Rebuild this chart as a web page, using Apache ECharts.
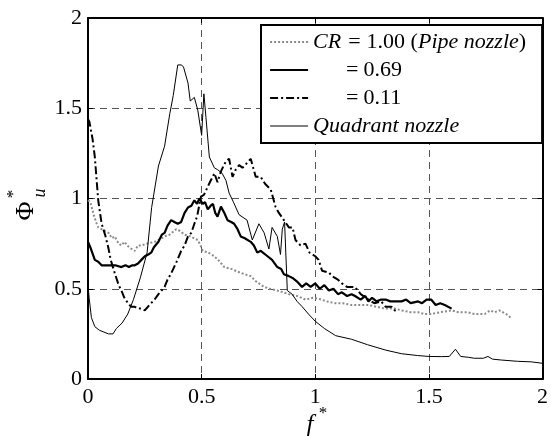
<!DOCTYPE html>
<html><head><meta charset="utf-8">
<script src="https://cdn.jsdelivr.net/npm/echarts@6/dist/echarts.min.js"></script>
<style>html,body{margin:0;padding:0;background:#fff}#c{width:551px;height:436px}</style>
</head><body><div id="c"></div>
<script>
const xTicks = [0, 0.5, 1, 1.5, 2];
const yTicks = [0, 0.5, 1, 1.5, 2];

// CR = 1.00 (Pipe nozzle)
const pipeData = [[0,0.99],[0.01,0.98],[0.023,0.92],[0.035,0.87],[0.045,0.84],[0.06,0.83],[0.074,0.82],[0.09,0.81],[0.105,0.78],[0.118,0.79],[0.135,0.75],[0.147,0.74],[0.16,0.76],[0.18,0.73],[0.206,0.71],[0.22,0.74],[0.235,0.74],[0.26,0.75],[0.293,0.76],[0.31,0.77],[0.337,0.79],[0.36,0.80],[0.388,0.83],[0.405,0.82],[0.424,0.80],[0.45,0.79],[0.483,0.77],[0.495,0.74],[0.505,0.71],[0.53,0.70],[0.556,0.68],[0.58,0.65],[0.60,0.62],[0.63,0.61],[0.658,0.595],[0.69,0.58],[0.716,0.57],[0.74,0.54],[0.775,0.51],[0.80,0.50],[0.833,0.49],[0.86,0.48],[0.884,0.47],[0.92,0.46],[0.957,0.44],[0.99,0.45],[1.015,0.445],[1.05,0.43],[1.088,0.42],[1.12,0.42],[1.16,0.41],[1.2,0.41],[1.234,0.41],[1.27,0.40],[1.307,0.39],[1.35,0.39],[1.38,0.38],[1.42,0.37],[1.453,0.37],[1.48,0.36],[1.51,0.36],[1.55,0.37],[1.6,0.38],[1.63,0.37],[1.67,0.37],[1.70,0.36],[1.745,0.36],[1.77,0.38],[1.79,0.37],[1.81,0.38],[1.84,0.36],[1.86,0.34]];

// CR = 0.69
const cr069Data = [[0,0.76],[0.01,0.73],[0.03,0.66],[0.045,0.65],[0.06,0.63],[0.08,0.63],[0.10,0.63],[0.12,0.63],[0.147,0.62],[0.165,0.63],[0.18,0.62],[0.195,0.63],[0.206,0.63],[0.22,0.64],[0.235,0.66],[0.25,0.68],[0.265,0.69],[0.278,0.70],[0.29,0.73],[0.31,0.76],[0.325,0.80],[0.337,0.81],[0.35,0.85],[0.366,0.88],[0.38,0.87],[0.395,0.86],[0.41,0.87],[0.425,0.92],[0.44,0.95],[0.455,0.96],[0.468,0.99],[0.48,0.97],[0.49,1.00],[0.505,0.97],[0.515,0.98],[0.527,0.94],[0.54,0.96],[0.55,0.97],[0.56,0.92],[0.57,0.90],[0.585,0.955],[0.60,0.92],[0.614,0.88],[0.63,0.87],[0.643,0.86],[0.658,0.83],[0.672,0.79],[0.69,0.78],[0.716,0.76],[0.73,0.74],[0.745,0.70],[0.76,0.71],[0.79,0.68],[0.81,0.66],[0.833,0.62],[0.85,0.61],[0.862,0.58],[0.884,0.57],[0.90,0.56],[0.92,0.54],[0.942,0.51],[0.96,0.53],[0.98,0.51],[1.0,0.53],[1.02,0.50],[1.04,0.52],[1.06,0.49],[1.08,0.50],[1.10,0.47],[1.117,0.48],[1.14,0.46],[1.16,0.47],[1.175,0.46],[1.20,0.44],[1.22,0.46],[1.234,0.43],[1.25,0.45],[1.27,0.43],[1.29,0.44],[1.31,0.44],[1.33,0.43],[1.35,0.43],[1.38,0.43],[1.40,0.44],[1.42,0.42],[1.453,0.43],[1.47,0.42],[1.49,0.44],[1.51,0.44],[1.53,0.41],[1.55,0.42],[1.57,0.41],[1.6,0.39]];

// CR = 0.11
const cr011Data = [[0,1.44],[0.006,1.425],[0.02,1.33],[0.03,1.23],[0.045,0.99],[0.06,0.86],[0.075,0.80],[0.089,0.73],[0.10,0.66],[0.118,0.585],[0.135,0.52],[0.147,0.49],[0.16,0.45],[0.176,0.42],[0.19,0.40],[0.206,0.40],[0.22,0.39],[0.235,0.39],[0.25,0.38],[0.27,0.41],[0.293,0.44],[0.31,0.47],[0.337,0.51],[0.35,0.55],[0.366,0.585],[0.39,0.65],[0.41,0.71],[0.425,0.74],[0.44,0.79],[0.455,0.81],[0.468,0.86],[0.48,0.90],[0.497,1.01],[0.51,1.02],[0.525,1.06],[0.54,1.10],[0.549,1.12],[0.556,1.14],[0.57,1.09],[0.585,1.15],[0.60,1.19],[0.61,1.21],[0.621,1.22],[0.636,1.12],[0.65,1.16],[0.665,1.185],[0.68,1.17],[0.695,1.19],[0.716,1.22],[0.738,1.12],[0.76,1.12],[0.78,1.08],[0.804,1.05],[0.825,0.955],[0.84,0.92],[0.862,0.88],[0.884,0.84],[0.90,0.84],[0.913,0.77],[0.935,0.74],[0.957,0.75],[0.975,0.70],[1.0,0.68],[1.015,0.66],[1.03,0.60],[1.06,0.59],[1.074,0.57],[1.10,0.55],[1.117,0.53],[1.14,0.51],[1.175,0.51],[1.20,0.47],[1.234,0.44],[1.26,0.42],[1.29,0.43],[1.31,0.40],[1.336,0.40],[1.35,0.38],[1.365,0.37]];

// Quadrant nozzle
const quadData = [[0,0.52],[0.005,0.45],[0.015,0.34],[0.03,0.29],[0.05,0.27],[0.07,0.26],[0.09,0.25],[0.11,0.25],[0.125,0.28],[0.15,0.31],[0.175,0.36],[0.2,0.44],[0.23,0.56],[0.26,0.70],[0.28,0.95],[0.31,1.18],[0.337,1.29],[0.36,1.47],[0.375,1.57],[0.395,1.74],[0.41,1.74],[0.42,1.73],[0.44,1.64],[0.45,1.54],[0.468,1.56],[0.483,1.49],[0.5,1.35],[0.51,1.58],[0.519,1.45],[0.534,1.23],[0.556,1.17],[0.57,1.16],[0.59,1.14],[0.607,1.10],[0.621,1.03],[0.64,0.98],[0.665,0.91],[0.70,0.88],[0.723,0.77],[0.752,0.86],[0.775,0.81],[0.796,0.72],[0.81,0.84],[0.833,0.79],[0.847,0.69],[0.855,0.83],[0.865,0.87],[0.877,0.49],[0.898,0.47],[0.92,0.43],[0.943,0.40],[0.97,0.36],[1.0,0.32],[1.04,0.28],[1.09,0.24],[1.16,0.22],[1.23,0.19],[1.31,0.16],[1.38,0.14],[1.45,0.13],[1.5,0.125],[1.555,0.124],[1.59,0.125],[1.617,0.165],[1.64,0.125],[1.675,0.12],[1.70,0.115],[1.74,0.115],[1.76,0.125],[1.78,0.11],[1.82,0.105],[1.89,0.098],[1.95,0.095],[2.0,0.087]];

const seriesNames = ['pipe', 'cr069', 'cr011', 'quad'];
const legendLabels = {
  pipe: '{i|CR}{g|}={g2|}1.00 ({i|Pipe nozzle})',
  cr069: '{sp|}={g3|}0.69',
  cr011: '{sp|}={g3|}0.11',
  quad: '{i|Quadrant nozzle}'
};

const FONT = '"Liberation Serif", serif';
const chart = echarts.init(document.getElementById('c'), null, {renderer: 'canvas'});

const gridStyle = {show: true, lineStyle: {color: '#555', width: 1, type: [7, 5]}};
const frameLine = {show: true, onZero: false, lineStyle: {color: '#000', width: 2}};
const tick = {show: true, inside: true, length: 5, lineStyle: {color: '#000', width: 1}};
const fmt = ticks => v => { const t = ticks.find(x => Math.abs(x - v) < 1e-9); return t === undefined ? '' : String(t); };
const LF = 22;

const styles = {
  pipe: {color: '#8a8a8a', width: 2, type: [2, 2]},
  cr069: {color: '#000', width: 2.2, type: 'solid'},
  cr011: {color: '#000', width: 2, type: [8, 3, 2, 3]},
  quad: {color: '#000', width: 1, type: 'solid'}
};
const seriesData = {pipe: pipeData, cr069: cr069Data, cr011: cr011Data, quad: quadData};

chart.setOption({
  animation: false,
  backgroundColor: '#fff',
  grid: {left: 88, right: 6, top: 18, bottom: 57, containLabel: false},
  xAxis: [{
    type: 'value', min: 0, max: 2, interval: 0.5, position: 'bottom',
    axisLine: frameLine, axisTick: tick, splitLine: gridStyle,
    axisLabel: {color: '#000', fontFamily: FONT, fontSize: 22, margin: 7, formatter: fmt(xTicks)}
  }, {
    type: 'value', min: 0, max: 2, interval: 0.5, position: 'top',
    axisLine: frameLine, axisTick: tick, splitLine: {show: false}, axisLabel: {show: false}
  }],
  yAxis: [{
    type: 'value', min: 0, max: 2, interval: 0.5, position: 'left',
    axisLine: frameLine, axisTick: tick, splitLine: gridStyle,
    axisLabel: {color: '#000', fontFamily: FONT, fontSize: 22, margin: 6, formatter: fmt(yTicks)}
  }, {
    type: 'value', min: 0, max: 2, interval: 0.5, position: 'right',
    axisLine: frameLine, axisTick: tick, splitLine: {show: false}, axisLabel: {show: false}
  }],
  legend: {
    orient: 'vertical', left: 261, top: 25,
    data: seriesNames.map(n => ({name: n, lineStyle: Object.assign({}, styles[n])})),
    itemWidth: 38, itemHeight: 12, itemGap: 6, itemTextGap: 5,
    padding: [6, 16, 6, 8],
    backgroundColor: '#fff',
    borderColor: '#000', borderWidth: 2, borderRadius: 0,
    itemStyle: {color: 'rgba(0,0,0,0)', borderColor: 'rgba(0,0,0,0)', borderWidth: 0, opacity: 0},
    formatter: name => legendLabels[name],
    textStyle: {
      color: '#000', fontFamily: FONT, fontSize: LF, lineHeight: 22,
      rich: {
        i: {fontStyle: 'italic', fontFamily: FONT, fontSize: LF, color: '#000'},
        g: {width: 7, fontSize: LF},
        g2: {width: 6, fontSize: LF},
        g3: {width: 5, fontSize: LF},
        sp: {width: 33, fontFamily: FONT, fontSize: LF}
      }
    }
  },
  series: seriesNames.map(n => ({
    name: n, type: 'line', data: seriesData[n], symbol: 'none', z: n === 'pipe' ? 2 : 3,
    lineStyle: Object.assign({}, styles[n]), itemStyle: {color: styles[n].color}
  })),
  graphic: [
    {type: 'text', x: 26, y: 211, rotation: Math.PI / 2, z: 10,
      style: {text: 'Φ', font: '26px "Liberation Serif"', fill: '#000', align: 'center', verticalAlign: 'middle'}},
    {type: 'text', x: 14, y: 194, rotation: Math.PI / 2, z: 10,
      style: {text: '*', font: '17px "Liberation Serif"', fill: '#000', align: 'center', verticalAlign: 'middle'}},
    {type: 'text', x: 40, y: 193, rotation: Math.PI / 2, z: 10,
      style: {text: 'u', font: 'italic 18px "Liberation Serif"', fill: '#000', align: 'center', verticalAlign: 'middle'}},
    {type: 'text', x: 310, y: 425, z: 10,
      style: {text: 'f', font: 'italic 25px "Liberation Serif"', fill: '#000', align: 'center', verticalAlign: 'middle'}},
    {type: 'text', x: 323, y: 414, z: 10,
      style: {text: '*', font: '17px "Liberation Serif"', fill: '#000', align: 'center', verticalAlign: 'middle'}}
  ]
});
</script>
</body></html>
